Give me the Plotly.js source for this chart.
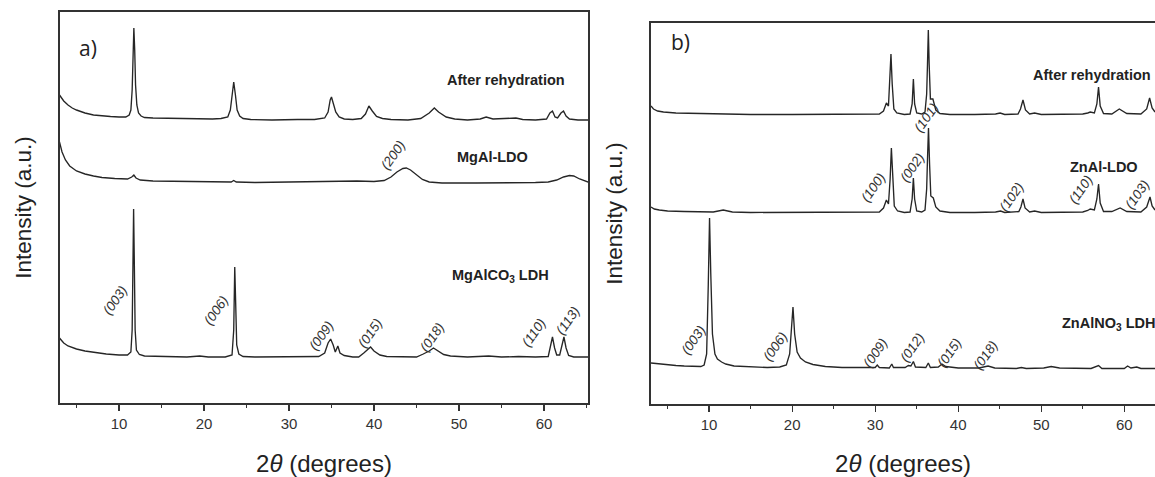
<!DOCTYPE html>
<html>
<head>
<meta charset="utf-8">
<script src="https://cdn.plot.ly/plotly-3.0.1.min.js"></script>
<style>html,body{margin:0;padding:0;background:#fff;}#chart{width:1155px;height:477px;}</style>
</head>
<body>
<div id="chart"></div>
<script>
// ---------- Panel a) MgAl ----------
// After rehydration
const aRehydTheta = [3.0,3.5,4.0,4.5,5.0,6.0,7.0,8.0,9.0,10.0,10.8,11.2,11.4,11.55,11.65,11.75,11.85,11.95,12.1,12.3,12.6,13.0,14,16,18,20,21,22,22.8,23.1,23.3,23.5,23.7,23.9,24.2,24.6,25.5,28,31,33,34.2,34.6,34.85,35.0,35.2,35.5,35.9,36.5,37.5,38.5,39.0,39.4,39.8,40.3,41,42,44,45.5,46.5,47.1,47.6,48.5,49.5,51,52.5,53.2,54,56,56.7,57.5,59,60.3,60.7,61.0,61.3,61.6,62.0,62.3,62.6,63.0,64,65.2];
const aRehydInt = [308,302,298,295,293,290,288,287,286.5,286,286,288,293,313,348,375,353,318,298,290,287,285.5,285,284.5,284,284,284,284.5,286,293,308,321,308,293,287,284.5,283.5,283,283.5,283.5,285,291,303,306,300,291,286,284,283.5,284.5,289,297,292,286.5,284.5,283.5,283,284.5,290,295,291,286,284,283,284,286,284,284.5,285,283.5,283,284,290,292,286,285,290,292,287,284,283,283];
// MgAl-LDO
const aLdoTheta = [3.0,3.3,3.7,4.2,5.0,6.0,7.0,8.0,9.5,11.0,11.5,11.75,12.0,12.5,14,17,20,23.2,23.5,23.8,26,30,33,36,38,40,41.2,42.0,42.7,43.4,43.8,44.3,45.0,45.7,46.5,48,52,56,59,60.5,61.5,62.3,63.0,63.5,64.2,65.2];
const aLdoInt = [261,251,243,237,232,229,227,225.5,224.5,224,226,228,225,223,222,221.5,221,221,222.5,221,220.5,221,222,222.5,222,221.5,222.5,226,231,234.5,235,233,228,223.5,221,220,220,220,220.5,221,223,226,227.5,227,224,221];
// MgAlCO3 LDH
const aLdhTheta = [3.0,3.5,4.0,5.0,6.0,7.0,8.5,10.0,11.0,11.4,11.55,11.65,11.72,11.8,11.9,12.05,12.4,13,15,18,19.5,20.5,22.5,23.3,23.5,23.62,23.72,23.85,24.1,24.6,26,30,32,33.5,34.2,34.6,34.9,35.2,35.45,35.75,36.0,36.5,37.5,38.2,38.8,39.3,39.6,40.0,40.7,41.5,43,45,45.8,46.5,47.0,47.5,48.2,49,51,53.5,55,57,59,60.5,60.75,61.0,61.25,61.5,61.85,62.1,62.35,62.6,62.9,63.5,65.2];
const aLdhInt = [65,60,57,54,52,50.5,49,48,48,51,73,143,194,143,73,53,48.5,47,46.5,46,47,46,46,48,73,136,103,58,49,46.5,46,46,46,46.5,50,60,64,58,51,57,50,47.5,46,46,50,54,56,52,48,46.5,46,46,49,52,55,52,48.5,47,46,47,46,46.5,46,46.5,58,66,55,48,48,58,66,55,47.5,46,46];

// ---------- Panel b) ZnAl ----------
const bRehydTheta = [3.0,3.3,3.8,4.5,6.0,8.0,10,12,15,20,25,29,30.5,31.0,31.35,31.6,31.75,31.9,32.05,32.25,32.6,33.5,34.2,34.45,34.6,34.75,35.0,35.6,36.0,36.2,36.3,36.4,36.5,36.65,36.95,37.3,37.8,39,42,44.5,45.05,45.6,47.2,47.5,47.8,48.1,48.6,49.2,50,55,55.6,55.9,56.4,56.7,56.9,57.1,57.5,58.5,59.4,60.3,62,62.7,63.05,63.35,63.7];
const bRehydInt = [298,295,293,292,291,290.5,290,289.5,289.5,289.5,289.5,289.5,290,293,301,298,320,350,320,295,291,289.5,290,300,325,300,291,290,292,310,340,374,340,305,305,294,290.5,289.5,289.5,290,291,289.5,290,295,304,294,290,291,289.5,290,291,292,291,300,317,298,290.5,290,295,290.5,290,295,306,296,292];
const bLdoTheta = [3.0,3.4,4.0,5,7,9,10.5,11.7,12.8,15,20,25,29,30.5,31.0,31.35,31.6,31.8,31.95,32.1,32.3,32.7,33.5,34.2,34.45,34.6,34.75,35.0,35.6,36.0,36.2,36.3,36.42,36.55,36.7,37.0,37.3,37.8,39,42,44.5,45.1,45.6,47.3,47.55,47.8,48.05,48.6,49.2,50,55,55.6,55.9,56.4,56.7,56.9,57.1,57.5,58.5,59.5,60.3,62,62.7,63.1,63.35,63.7];
const bLdoInt = [197,195,194,193,192.5,192,192,194,192,191.5,191.5,191.5,191.5,192,196,204,200,225,256,225,198,193,191.5,192,205,226,205,193,192,194,215,245,276,240,208,206,197,193,191.5,191.5,192,193,191.5,192.5,197,205,196,192,193,191.5,192,193.5,195,194,205,220,201,192.5,192.5,196,192.5,192,197,207,198,194];
const bLdhTheta = [3.0,4,5,6,7,8,9.0,9.4,9.7,9.9,10.05,10.2,10.4,10.7,11.0,11.5,12.0,13,15,17,18.5,19.3,19.7,19.95,20.1,20.3,20.6,21.0,21.6,22.5,24,26,29,30.0,30.25,30.5,31.7,32.0,32.2,33.6,34.0,34.3,34.6,34.85,36.1,36.4,36.65,37.6,38.05,38.5,40,42.5,43.6,44.4,47,47.6,48.2,50.3,51.2,52.2,56,56.9,57.3,60.0,60.4,60.8,61.5,62,63.7];
const bLdhInt = [41,40,39,38.5,38,37.5,37.5,39,50,120,186,130,70,50,45,42,40,38,37,36.5,37,39,50,80,97,70,52,46,42,39.5,37.5,36.5,36,36.5,39,36.5,36,40,36.5,36.5,38.5,38,42.5,37,36.5,41,36.5,37,40,37.5,36,36,38,36,35.5,36.5,35.5,36,37.5,36,35.5,38.5,35.5,35.5,38,36,37,35.5,35.5];

const sampleNamesA = ['After rehydration', 'MgAl-LDO', 'MgAlCO<sub>3</sub> LDH'];
const sampleNamesB = ['After rehydration', 'ZnAl-LDO', 'ZnAlNO<sub>3</sub> LDH'];
const hklA = ['(003)','(006)','(009)','(015)','(018)','(110)','(113)','(200)'];
const hklB = ['(100)','(002)','(101)','(102)','(110)','(103)','(003)','(006)','(009)','(012)','(015)','(018)'];

const lineStyle = {color:'#262626', width:1.35};
function tr(x, y, xa, ya, name){
  return {x:x, y:y, xaxis:xa, yaxis:ya, type:'scatter', mode:'lines', line:lineStyle, name:name, hoverinfo:'skip'};
}
const data = [
  tr(aRehydTheta, aRehydInt, 'x', 'y', sampleNamesA[0]),
  tr(aLdoTheta, aLdoInt, 'x', 'y', sampleNamesA[1]),
  tr(aLdhTheta, aLdhInt, 'x', 'y', sampleNamesA[2]),
  tr(bRehydTheta, bRehydInt, 'x2', 'y2', sampleNamesB[0]),
  tr(bLdoTheta, bLdoInt, 'x2', 'y2', sampleNamesB[1]),
  tr(bLdhTheta, bLdhInt, 'x2', 'y2', sampleNamesB[2])
];

const font = 'Liberation Sans, Arial, sans-serif';
const xCommon = {
  showline:true, linecolor:'#333', linewidth:1.6, mirror:true,
  ticks:'outside', ticklen:6, tickwidth:1.3, tickcolor:'#333',
  dtick:10, tick0:0, showgrid:false, zeroline:false,
  minor:{dtick:5, ticks:'outside', ticklen:3.5, tickwidth:1.3, tickcolor:'#333', showgrid:false},
  tickfont:{family:font, size:15, color:'#333'},
  title:{text:'2<i>θ</i> (degrees)', font:{family:font, size:24, color:'#222'}, standoff:24}
};
const yCommon = {
  showline:true, linecolor:'#333', linewidth:1.6,
  ticks:'', showticklabels:false, showgrid:false, zeroline:false,
  title:{text:'Intensity (a.u.)', font:{family:font, size:22.5, color:'#222'}, standoff:20}
};

const layout = {
  width:1155, height:477,
  margin:{l:60, r:0, t:12, b:73},
  paper_bgcolor:'#fff', plot_bgcolor:'#fff',
  showlegend:false,
  xaxis: Object.assign({}, xCommon, {domain:[0, 0.48219], range:[3.06, 65.18], anchor:'y'}),
  yaxis: Object.assign({}, yCommon, {domain:[0.00255, 1], range:[0, 391], anchor:'x', mirror:true}),
  xaxis2: Object.assign({}, xCommon, {domain:[0.53973, 1], range:[3.0, 63.7], anchor:'y2'}),
  yaxis2: Object.assign({}, yCommon, {domain:[0, 0.97194], range:[0, 381], anchor:'x2', mirror:false}),
  annotations: []
};

function ann(text, x, y, xr, yr, opts){
  return Object.assign({text:text, x:x, y:y, xref:xr, yref:yr, showarrow:false,
    xanchor:'center', yanchor:'middle',
    font:{family:font, size:13, color:'#333'}}, opts||{});
}
const panelFont = {family:'Open Sans, Noto Sans, sans-serif', size:21, color:'#222'};
const nameFont = {family:font, size:14.5, color:'#222', weight:'bold'};
const hklFont = {family:font, size:13.5, color:'#333', style:'italic'};
const rot = -55;
const A = layout.annotations;
// panel letters
A.push(ann('a)', 6.35, 355, 'x', 'y', {font:panelFont}));
A.push(ann('b)', 6.6, 362, 'x2', 'y2', {font:panelFont}));
// sample names
A.push(ann('<b>'+sampleNamesA[0]+'</b>', 55.5, 323, 'x', 'y', {font:nameFont}));
A.push(ann('<b>'+sampleNamesA[1]+'</b>', 53.9, 246, 'x', 'y', {font:nameFont}));
A.push(ann('<b>'+sampleNamesA[2]+'</b>', 54.9, 127, 'x', 'y', {font:nameFont}));
A.push(ann('<b>'+sampleNamesB[0]+'</b>', 56.1, 329, 'x2', 'y2', {font:nameFont}));
A.push(ann('<b>'+sampleNamesB[1]+'</b>', 57.6, 237, 'x2', 'y2', {font:nameFont}));
A.push(ann('<b>'+sampleNamesB[2]+'</b>', 58.1, 80, 'x2', 'y2', {font:nameFont}));
// hkl labels panel a
const hklAPos = [[9.5,103],[21.4,93],[33.8,68],[39.5,70],[46.8,66],[58.8,71],[62.8,83],[42.2,248]];
hklA.forEach((t,i)=>A.push(ann(t, hklAPos[i][0], hklAPos[i][1], 'x', 'y', {font:hklFont, textangle:rot})));
// hkl labels panel b
const hklBPos = [[29.8,216],[34.5,236],[36.2,286],[46.5,207],[54.8,214],[61.6,209],[8.2,64],[18.0,57],[30.1,51],[34.5,56],[39.0,51],[43.4,49]];
hklB.forEach((t,i)=>A.push(ann(t, hklBPos[i][0], hklBPos[i][1], 'x2', 'y2', {font:hklFont, textangle:rot})));

Plotly.newPlot('chart', data, layout, {staticPlot:true, displayModeBar:false});
</script>
</body>
</html>
